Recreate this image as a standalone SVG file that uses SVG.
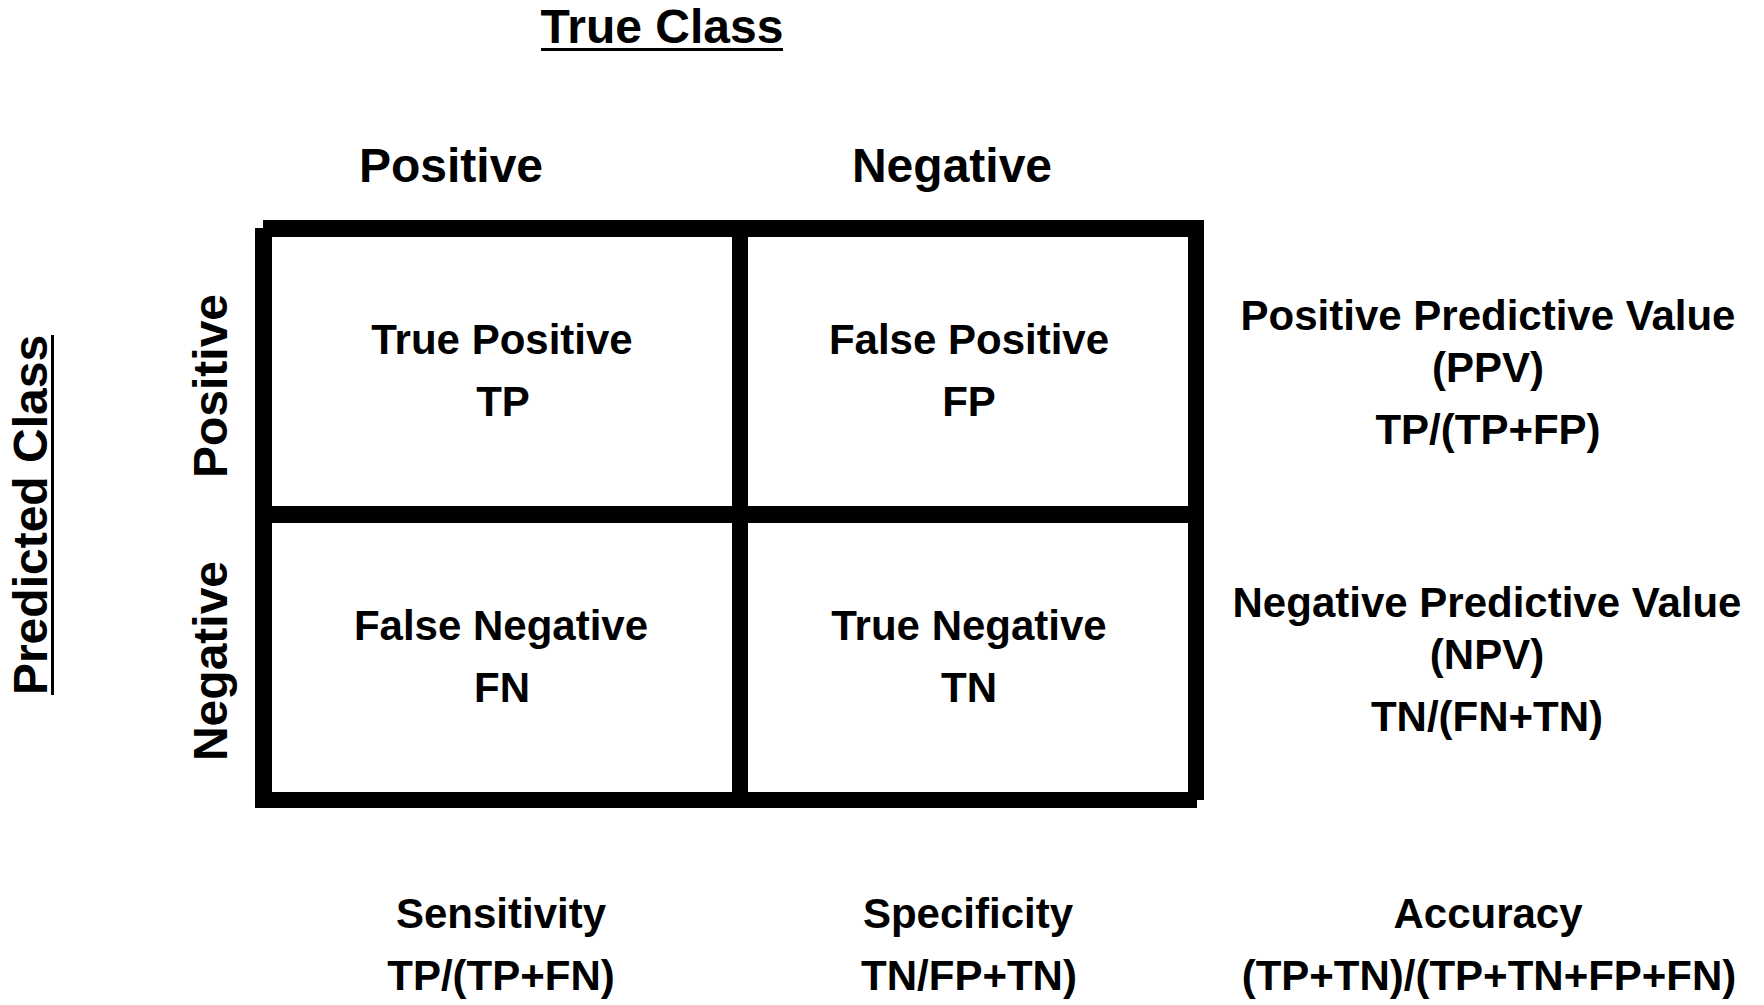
<svg xmlns="http://www.w3.org/2000/svg" width="1764" height="1005" viewBox="0 0 1764 1005">
<style>
text{font-family:"Liberation Sans",Arial,sans-serif;font-weight:bold;fill:#000;text-anchor:middle}
.h{font-size:48px}
.b{font-size:42px}
.line{fill:#000}
</style>
<rect x="0" y="0" width="1764" height="1005" fill="#fff"/>
<g id="grid">
<rect class="line" x="263" y="220" width="941" height="17"/>
<rect class="line" x="255" y="228" width="17" height="580"/>
<rect class="line" x="1188" y="220" width="16" height="580"/>
<rect class="line" x="255" y="792" width="942" height="16"/>
<rect class="line" x="732" y="228" width="16" height="572"/>
<rect class="line" x="263" y="506" width="933" height="17"/>
</g>
<g id="true-class">
<text class="h" x="662" y="43">True Class</text>
<rect class="line" x="541" y="48" width="242" height="3"/>
</g>
<g id="col-positive"><text class="h" x="451" y="182">Positive</text></g>
<g id="col-negative"><text class="h" x="952" y="182">Negative</text></g>
<g id="predicted-class">
<text class="h" transform="translate(47,515) rotate(-90)">Predicted Class</text>
<rect class="line" x="51" y="335" width="3" height="360"/>
</g>
<g id="row-positive"><text class="h" transform="translate(227,386) rotate(-90)">Positive</text></g>
<g id="row-negative"><text class="h" transform="translate(227,661) rotate(-90)">Negative</text></g>
<g id="tp"><text class="b" x="502" y="354">True Positive</text><text class="b" x="503" y="416">TP</text></g>
<g id="fp"><text class="b" x="969" y="354">False Positive</text><text class="b" x="969" y="416">FP</text></g>
<g id="fn"><text class="b" x="501" y="640">False Negative</text><text class="b" x="502" y="702">FN</text></g>
<g id="tn"><text class="b" x="969" y="640">True Negative</text><text class="b" x="969" y="702">TN</text></g>
<g id="ppv">
<text class="b" x="1488" y="330">Positive Predictive Value</text>
<text class="b" x="1488" y="382">(PPV)</text>
<text class="b" x="1488" y="444">TP/(TP+FP)</text>
</g>
<g id="npv">
<text class="b" x="1487" y="617">Negative Predictive Value</text>
<text class="b" x="1487" y="669">(NPV)</text>
<text class="b" x="1487" y="731">TN/(FN+TN)</text>
</g>
<g id="sensitivity">
<text class="b" x="501" y="928">Sensitivity</text>
<text class="b" x="501" y="990">TP/(TP+FN)</text>
</g>
<g id="specificity">
<text class="b" x="968" y="928">Specificity</text>
<text class="b" x="969" y="990">TN/FP+TN)</text>
</g>
<g id="accuracy">
<text class="b" x="1488" y="928">Accuracy</text>
<text class="b" x="1489" y="990">(TP+TN)/(TP+TN+FP+FN)</text>
</g>
</svg>
